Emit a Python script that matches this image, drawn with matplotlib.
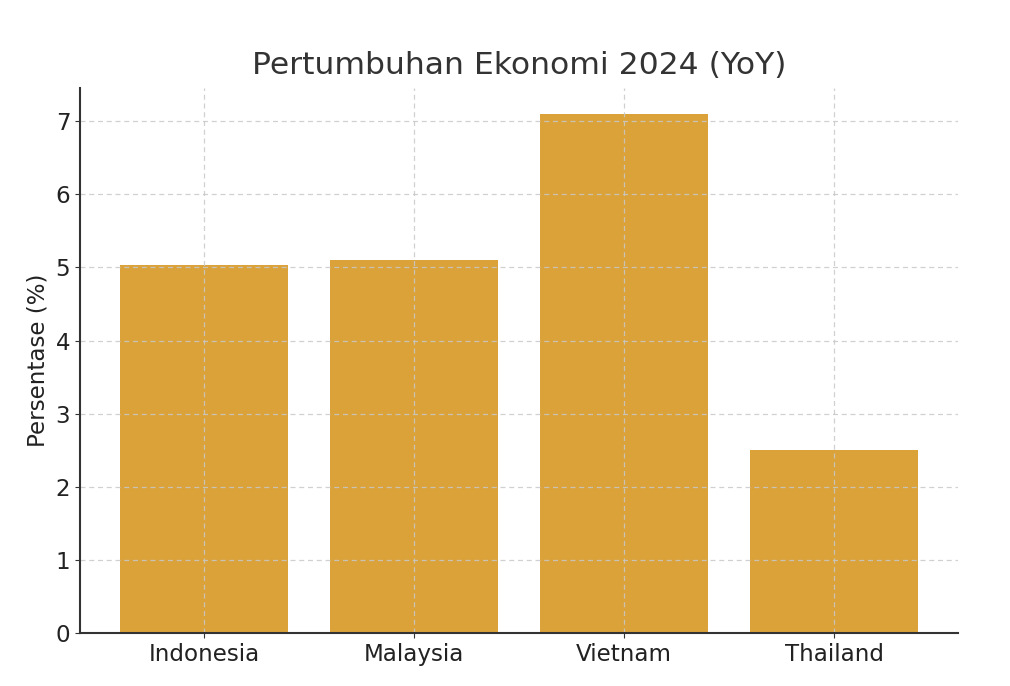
import matplotlib.pyplot as plt
import numpy as np

# Data
countries = ["Indonesia", "Malaysia", "Vietnam", "Thailand"]
growth = [5.03, 5.1, 7.1, 2.5]

x = np.arange(len(countries))

fig, ax = plt.subplots(figsize=(10.1, 6.86), dpi=100)
fig.subplots_adjust(left=0.0792, right=0.9485, top=0.8717, bottom=0.0773)

ax.bar(x, growth, width=0.8, color="#DBA23A")

ax.set_title("Pertumbuhan Ekonomi 2024 (YoY)", fontsize=22.6, color="#333333", pad=10)
ax.set_ylabel("Persentase (%)", fontsize=16.6, color="#222222")
ax.set_xticks(x)
ax.set_xticklabels(countries)
ax.tick_params(axis="both", labelsize=16.6, labelcolor="#222222", color="#333333")

ax.grid(True, linestyle=(0, (4, 3)), color="#c8c8c8", alpha=0.85, linewidth=0.9)

ax.spines["top"].set_visible(False)
ax.spines["right"].set_visible(False)
ax.spines["left"].set_color("#333333")
ax.spines["bottom"].set_color("#333333")
ax.spines["left"].set_linewidth(1.5)
ax.spines["bottom"].set_linewidth(1.5)

plt.savefig("out.png", dpi=100)
